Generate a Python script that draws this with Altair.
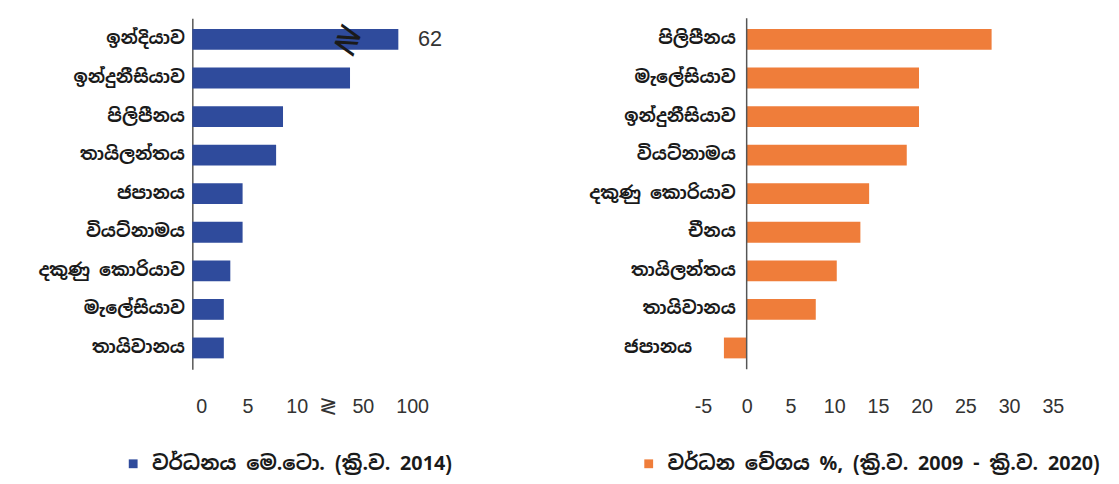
import altair as alt
import pandas as pd

# ---- data ----
left_countries = ["ඉන්දියාව", "ඉන්දුනීසියාව", "පිලිපීනය", "තායිලන්තය", "ජපානය",
                  "වියට්නාමය", "දකුණු කොරියාව", "මැලේසියාව", "තායිවානය"]
left_values = [62, 47.6, 9.5, 8.8, 5.4, 5.4, 4.1, 3.4, 3.4]

right_countries = ["පිලිපීනය", "මැලේසියාව", "ඉන්දුනීසියාව", "වියට්නාමය", "දකුණු කොරියාව",
                   "චීනය", "තායිලන්තය", "තායිවානය", "ජපානය"]
right_values = [28, 19.7, 19.7, 18.3, 14, 13, 10.3, 7.9, -2.6]

left_ticks = [0, 5, 10, 50, 100]
right_ticks = [-5, 0, 5, 10, 15, 20, 25, 30, 35]

left_legend = "වර්ධනය මෙ.ටො. (ක්‍රි.ව. 2014)"
right_legend = "වර්ධන වේගය %, (ක්‍රි.ව. 2009 - ක්‍රි.ව. 2020)"
break_mark = "≷"

# ---- styles ----
BLUE = "#2f4b9c"
ORANGE = "#ef7d3a"
SIN_FONT = "Noto Sans Sinhala, Iskoola Pota, Noto Sans, DejaVu Sans, sans-serif"
NUM_FONT = "Liberation Sans, Arial, sans-serif"
TXT = "#1a1a1a"
H = 356
LW = 214
RW = 355

ldf = pd.DataFrame({"country": left_countries, "value": left_values, "series": left_legend})
rdf = pd.DataFrame({"country": right_countries, "value": right_values, "series": right_legend})

band = alt.Scale(paddingInner=0.46, paddingOuter=0.28)

# ---------- left panel ----------
xl_scale = alt.Scale(domain=[0, 5, 10, 50, 62, 100], range=[0, 47, 97, 164, 209, 214], nice=False)
xl = alt.X("value:Q", scale=xl_scale,
           axis=alt.Axis(title=None, values=left_ticks, domain=False, ticks=False, grid=False,
                         labelPadding=28, labelOffset=9, labelFont=NUM_FONT, labelFontSize=20,
                         labelColor="#333", labelFlush=False, labelOverlap=False,
                         labelExpr="'' + datum.value"))
yl = alt.Y("country:N", sort=left_countries, scale=band,
           axis=alt.Axis(title=None, domain=True, domainColor="#555", domainWidth=1.5, ticks=False,
                         labelPadding=8, labelFont=SIN_FONT, labelFontSize=18, labelFontWeight="bold",
                         labelColor=TXT, labelLimit=300))

left_bars = alt.Chart(ldf).mark_bar().encode(
    x=xl, y=yl,
    color=alt.Color("series:N", scale=alt.Scale(domain=[left_legend], range=[BLUE]),
                    legend=alt.Legend(title=None, orient="none", legendX=-70, legendY=442,
                                      symbolType="square", symbolSize=80, symbolStrokeWidth=0,
                                      labelFont=SIN_FONT, labelFontSize=20, labelFontWeight="bold",
                                      labelColor=TXT, labelLimit=700, padding=0, labelOffset=9)),
)

india = alt.Chart(ldf).transform_filter(alt.datum.country == left_countries[0])

india_label = india.mark_text(align="left", baseline="middle", dx=20, font=NUM_FONT,
                              fontSize=22, color="#333").encode(
    x=alt.X("value:Q", scale=xl_scale), y=alt.Y("country:N", sort=left_countries),
    text=alt.Text("value:Q", format=".0f"))

bar_break = india.mark_text(text=break_mark, fontSize=36, color="#1a1a1a", angle=20,
                            baseline="middle").encode(
    x=alt.datum(46), y=alt.Y("country:N", sort=left_countries))

axis_break = india.mark_text(text=break_mark, fontSize=22, color="#333",
                             baseline="middle").encode(
    x=alt.datum(34), y=alt.value(H + 37))

left = alt.layer(left_bars, india_label, bar_break, axis_break).properties(width=LW, height=H)

# ---------- right panel ----------
xr_scale = alt.Scale(domain=[-5, 35], nice=False, zero=False)
xr = alt.X("value:Q", scale=xr_scale,
           axis=alt.Axis(title=None, values=right_ticks, domain=False, ticks=False, grid=False,
                         labelPadding=28, labelFont=NUM_FONT, labelFontSize=20, labelColor="#333",
                         labelFlush=False, labelOverlap=False, labelExpr="'' + datum.value"))
yr = alt.Y("country:N", sort=right_countries, scale=band, axis=None)

right_bars = alt.Chart(rdf).mark_bar().encode(
    x=xr, y=yr,
    color=alt.Color("series:N", scale=alt.Scale(domain=[right_legend], range=[ORANGE]),
                    legend=alt.Legend(title=None, orient="none", legendX=-65, legendY=442,
                                      symbolType="square", symbolSize=80, symbolStrokeWidth=0,
                                      labelFont=SIN_FONT, labelFontSize=20, labelFontWeight="bold",
                                      labelColor=TXT, labelLimit=700, padding=0, labelOffset=9)),
)

zero_rule = alt.Chart(rdf).transform_filter(alt.datum.country == right_countries[0]).mark_rule(
    color="#555", strokeWidth=1.5).encode(x=alt.datum(0))

right_labels = alt.Chart(rdf).transform_calculate(
    lx="datum.value < 0 ? -5 : 0").mark_text(
    align="right", baseline="middle", dx=-11, font=SIN_FONT, fontSize=18, fontWeight="bold",
    color=TXT).encode(
    x=alt.X("lx:Q", scale=xr_scale), y=alt.Y("country:N", sort=right_countries),
    text="country:N")

right = alt.layer(right_bars, zero_rule, right_labels).properties(width=RW, height=H)

chart = alt.hconcat(left, right, spacing=304, bounds="flush").resolve_scale(
    color="independent").properties(
    padding={"left": 30, "top": 6, "right": 10, "bottom": 0},
).configure_view(stroke=None)

chart.save("out.html", embed_options={"renderer": "svg", "actions": False})
